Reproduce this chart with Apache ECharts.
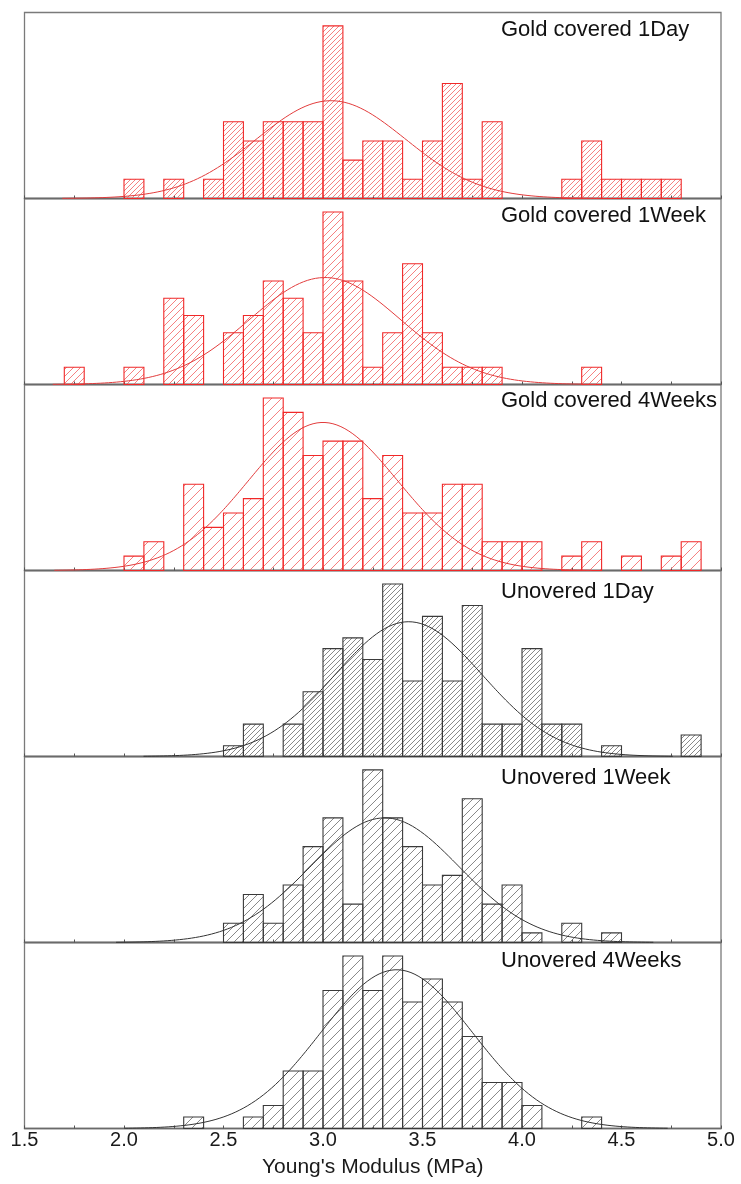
<!DOCTYPE html>
<html><head><meta charset="utf-8">
<script src="https://cdn.jsdelivr.net/npm/echarts@6/dist/echarts.min.js"></script>
<style>html,body{margin:0;padding:0;background:#fff}#c{width:741px;height:1184px}</style>
</head><body><div id="c"></div>
<script>
// ---------- data ----------
const panelTitles = ['Gold covered 1Day','Gold covered 1Week','Gold covered 4Weeks','Unovered 1Day','Unovered 1Week','Unovered 4Weeks'];
const binWidth = 0.1;
const xTicks = [1.5, 2.0, 2.5, 3.0, 3.5, 4.0, 4.5, 5.0];
const xTitle = "Young's Modulus (MPa)";

const goldDayBins   = [2.0,2.2,2.4,2.5,2.6,2.7,2.8,2.9,3.0,3.1,3.2,3.3,3.4,3.5,3.6,3.7,3.8,4.2,4.3,4.4,4.5,4.6,4.7];
const goldDayCounts = [1,1,1,4,3,4,4,4,9,2,3,3,1,3,6,1,4,1,3,1,1,1,1];

const goldWeekBins   = [1.7,2.0,2.2,2.3,2.5,2.6,2.7,2.8,2.9,3.0,3.1,3.2,3.3,3.4,3.5,3.6,3.7,3.8,4.3];
const goldWeekCounts = [1,1,5,4,3,4,6,5,3,10,6,1,3,7,3,1,1,1,1];

const gold4wBins   = [2.0,2.1,2.3,2.4,2.5,2.6,2.7,2.8,2.9,3.0,3.1,3.2,3.3,3.4,3.5,3.6,3.7,3.8,3.9,4.0,4.2,4.3,4.5,4.7,4.8];
const gold4wCounts = [1,2,6,3,4,5,12,11,8,9,9,5,8,4,4,6,6,2,2,2,1,2,1,1,2];

const unc1dBins   = [2.5,2.6,2.8,2.9,3.0,3.1,3.2,3.3,3.4,3.5,3.6,3.7,3.8,3.9,4.0,4.1,4.2,4.4,4.8];
const unc1dCounts = [1,3,3,6,10,11,9,16,7,13,7,14,3,3,10,3,3,1,2];

const unc1wBins   = [2.5,2.6,2.7,2.8,2.9,3.0,3.1,3.2,3.3,3.4,3.5,3.6,3.7,3.8,3.9,4.0,4.2,4.4];
const unc1wCounts = [2,5,2,6,10,13,4,18,13,10,6,7,15,4,6,1,2,1];

const unc4wBins   = [2.3,2.6,2.7,2.8,2.9,3.0,3.1,3.2,3.3,3.4,3.5,3.6,3.7,3.8,3.9,4.0,4.3];
const unc4wCounts = [1,1,2,5,5,12,15,12,15,11,13,11,8,4,4,2,1];

// fitted normal curves: mean, sigma, peak height (counts)
const fitMean  = [3.04, 3.01, 3.00, 3.43, 3.31, 3.37];
const fitSigma = [0.375, 0.38, 0.375, 0.37, 0.375, 0.38];
const fitPeak  = [5.1, 6.2, 10.3, 12.5, 13.0, 13.8];

// ---------- layout / style ----------
const allBins = [goldDayBins, goldWeekBins, gold4wBins, unc1dBins, unc1wBins, unc4wBins];
const allCounts = [goldDayCounts, goldWeekCounts, gold4wCounts, unc1dCounts, unc1wCounts, unc4wCounts];
const yMax = [9.7, 10.78, 12.94, 17.25, 19.4, 16.17];
const hatchSpacing = [5, 7, 10, 5, 8, 10];
const labelOffset = [6, 6, 5, 10, 10, 7];
const panelTop0 = 12.5, panelH = 186;
const FONT = '"Liberation Sans", Arial, sans-serif';
const RED = '#f02828', RED_H = '#f36060', GR = '#3a3a3a', GR_H = '#6a6a6a';

function hatchRenderer(spacing, stroke, hatchColor) {
  return function (params, api) {
    const xv = api.value(0), cv = api.value(1);
    const p0 = api.coord([xv, 0]);
    const p1 = api.coord([xv + binWidth, cv]);
    const xl = p0[0], xr = p1[0], yb = p0[1], yt = p1[1];
    const m = 1;
    const children = [];
    const cMin = xl + m * yt, cMax = xr + m * yb;
    for (let n = Math.ceil(cMin / spacing); n * spacing <= cMax; n++) {
      const cc = n * spacing;
      const yA = Math.max(yt, (cc - xr) / m), yB = Math.min(yb, (cc - xl) / m);
      if (yB - yA > 0.4) {
        children.push({type: 'line', shape: {x1: cc - m * yA, y1: yA, x2: cc - m * yB, y2: yB},
          style: {stroke: hatchColor, lineWidth: 0.8}});
      }
    }
    children.push({type: 'rect', shape: {x: xl, y: yt, width: xr - xl, height: yb - yt},
      style: {fill: 'none', stroke: stroke, lineWidth: 1.1}});
    return {type: 'group', children: children};
  };
}

const grids = [], xAxes = [], yAxes = [], series = [], graphics = [];
for (let i = 0; i < 6; i++) {
  const isRed = i < 3;
  const top = panelTop0 + i * panelH;
  grids.push({left: 24.5, right: 20, top: top, height: panelH, show: true, borderColor: '#7a7a7a', borderWidth: 1.3, backgroundColor: 'transparent'});
  const last = i === 5;
  xAxes.push({
    type: 'value', gridIndex: i, min: 1.5, max: 5.0, interval: 0.5,
    axisLine: {show: true, onZero: false, lineStyle: {color: '#6a6a6a', width: 1.3}},
    axisTick: {show: true, inside: true, length: 3, lineStyle: {color: '#555'}},
    minorTick: {show: true, splitNumber: 2, length: 3, lineStyle: {color: '#555'}},
    splitLine: {show: false},
    axisLabel: {show: last, fontSize: 20, color: '#1a1a1a', fontFamily: FONT, margin: 2,
      formatter: v => (xTicks.some(t => Math.abs(t - v) < 1e-6) ? v.toFixed(1) : '')},
    name: last ? xTitle : '', nameLocation: 'middle', nameGap: 28,
    nameTextStyle: {fontSize: 21, color: '#1a1a1a', fontFamily: FONT}
  });
  yAxes.push({type: 'value', gridIndex: i, min: 0, max: yMax[i], show: false, splitLine: {show: false}});
  const bars = allBins[i].map((b, k) => [b, allCounts[i][k]]);
  series.push({
    type: 'custom', xAxisIndex: i, yAxisIndex: i, data: bars,
    renderItem: hatchRenderer(hatchSpacing[i], isRed ? RED : GR, isRed ? RED_H : GR_H),
    encode: {x: 0, y: 1}, silent: true, animation: false
  });
  const curve = [];
  const lo = fitMean[i] - 3.6 * fitSigma[i], hi = fitMean[i] + 3.6 * fitSigma[i];
  for (let x = lo; x <= hi + 1e-9; x += 0.01) {
    const z = (x - fitMean[i]) / fitSigma[i];
    curve.push([x, fitPeak[i] * Math.exp(-0.5 * z * z)]);
  }
  series.push({
    type: 'line', xAxisIndex: i, yAxisIndex: i, data: curve, showSymbol: false, smooth: false,
    lineStyle: {color: isRed ? '#e23c3c' : '#333', width: 1}, silent: true, animation: false, z: 5
  });
  graphics.push({
    type: 'text', left: 501, top: top + labelOffset[i],
    style: {text: panelTitles[i], fill: '#111', font: '22px ' + FONT}
  });
}

const chart = echarts.init(document.getElementById('c'), null, {renderer: 'canvas'});
chart.setOption({
  animation: false,
  grid: grids, xAxis: xAxes, yAxis: yAxes, series: series, graphic: graphics
});
</script>
</body></html>
